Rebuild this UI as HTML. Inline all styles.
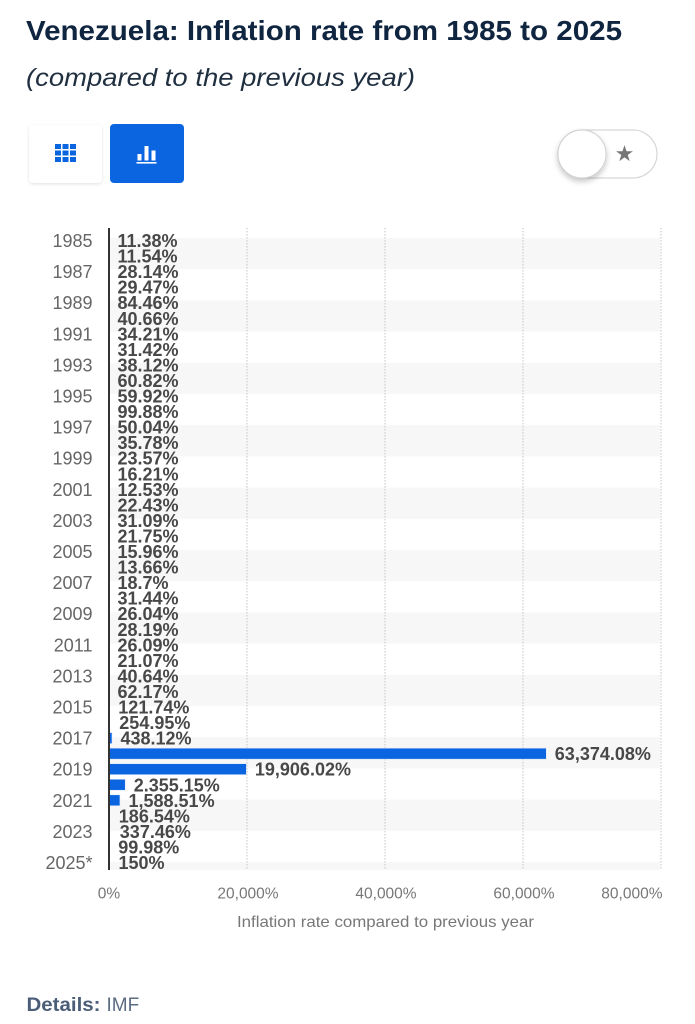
<!DOCTYPE html>
<html>
<head>
<meta charset="utf-8">
<style>
  html,body{margin:0;padding:0;background:#fff;}
  body{width:695px;height:1024px;overflow:hidden;}
  svg{display:block;}
</style>
</head>
<body>
<svg width="695" height="1024" viewBox="0 0 695 1024" xmlns="http://www.w3.org/2000/svg">
  <defs>
    <filter id="sh" x="-30%" y="-30%" width="160%" height="160%">
      <feDropShadow dx="0" dy="1" stdDeviation="1.5" flood-color="#000" flood-opacity="0.12"/>
    </filter>
    <filter id="sh2" x="-40%" y="-40%" width="180%" height="180%">
      <feDropShadow dx="0" dy="3" stdDeviation="3" flood-color="#000" flood-opacity="0.22"/>
    </filter>
  </defs>
  <rect x="0" y="0" width="695" height="1024" fill="#fff"/>

  <!-- Title -->
  <text x="26" y="40" font-family="Liberation Sans, sans-serif" font-weight="bold" font-size="27.5" fill="#0f2540" textLength="596" lengthAdjust="spacingAndGlyphs">Venezuela: Inflation rate from 1985 to 2025</text>
  <text x="26" y="86" font-family="Liberation Sans, sans-serif" font-style="italic" font-size="25" fill="#1f2f40" textLength="389" lengthAdjust="spacingAndGlyphs">(compared to the previous year)</text>

  <!-- Buttons -->
  <rect x="29" y="125" width="73" height="58" rx="4" fill="#fff" filter="url(#sh)"/>
  <g fill="#0b65e0">
    <rect x="55" y="144" width="6" height="5"/><rect x="62.5" y="144" width="6" height="5"/><rect x="70" y="144" width="6" height="5"/>
    <rect x="55" y="150.5" width="6" height="5"/><rect x="62.5" y="150.5" width="6" height="5"/><rect x="70" y="150.5" width="6" height="5"/>
    <rect x="55" y="157" width="6" height="5"/><rect x="62.5" y="157" width="6" height="5"/><rect x="70" y="157" width="6" height="5"/>
  </g>
  <rect x="110" y="124" width="74" height="59" rx="4" fill="#0b65e0"/>
  <g fill="#fff">
    <rect x="137.5" y="154" width="4" height="6.5"/>
    <rect x="144.5" y="146" width="4" height="14.5"/>
    <rect x="151.5" y="150.5" width="4" height="10"/>
    <rect x="136.5" y="162" width="20" height="1.6"/>
  </g>

  <!-- Toggle -->
  <rect x="558" y="130" width="99" height="48" rx="24" fill="#fff" stroke="#d6d6d6" stroke-width="1.2"/>
  <circle cx="582" cy="154" r="24" fill="#fff" stroke="#d0d0d0" stroke-width="1" filter="url(#sh2)"/>
  <text x="624.5" y="161" text-anchor="middle" font-family="DejaVu Sans, sans-serif" font-size="22" fill="#777">★</text>

  <!-- Stripes -->
  <g fill="#f7f7f7">
    <rect x="110" y="238" width="550" height="31.2"/>
    <rect x="110" y="300.4" width="550" height="31.2"/>
    <rect x="110" y="362.8" width="550" height="31.2"/>
    <rect x="110" y="425.2" width="550" height="31.2"/>
    <rect x="110" y="487.6" width="550" height="31.2"/>
    <rect x="110" y="550" width="550" height="31.2"/>
    <rect x="110" y="612.4" width="550" height="31.2"/>
    <rect x="110" y="674.8" width="550" height="31.2"/>
    <rect x="110" y="737.2" width="550" height="31.2"/>
    <rect x="110" y="799.6" width="550" height="31.2"/>
    <rect x="110" y="862" width="550" height="8"/>
  </g>

  <!-- Gridlines -->
  <g stroke="#c4c4c4" stroke-width="1" stroke-dasharray="1.5,1.5">
    <line x1="247" y1="228" x2="247" y2="870"/>
    <line x1="385" y1="228" x2="385" y2="870"/>
    <line x1="523" y1="228" x2="523" y2="870"/>
    <line x1="661" y1="228" x2="661" y2="870"/>
  </g>

  <!-- Bars -->
  <g fill="#0b65e0" stroke="#dbe8fb" stroke-width="0.6">
    <rect x="109" y="732.6" width="3" height="11"/>
    <rect x="109" y="748.15" width="437.3" height="11"/>
    <rect x="109" y="763.7" width="137.35" height="11"/>
    <rect x="109" y="779.25" width="16.25" height="11"/>
    <rect x="109" y="794.8" width="10.96" height="11"/>
  </g>

  <!-- Axis line -->
  <line x1="109" y1="228" x2="109" y2="870" stroke="#333" stroke-width="2"/>

  <!-- Year labels -->
  <g font-family="Liberation Sans, sans-serif" font-size="18" fill="#666" text-anchor="end">
    <text x="92.5" y="247">1985</text>
    <text x="92.5" y="278.1">1987</text>
    <text x="92.5" y="309.2">1989</text>
    <text x="92.5" y="340.3">1991</text>
    <text x="92.5" y="371.4">1993</text>
    <text x="92.5" y="402.5">1995</text>
    <text x="92.5" y="433.6">1997</text>
    <text x="92.5" y="464.7">1999</text>
    <text x="92.5" y="495.8">2001</text>
    <text x="92.5" y="526.9">2003</text>
    <text x="92.5" y="558">2005</text>
    <text x="92.5" y="589.1">2007</text>
    <text x="92.5" y="620.2">2009</text>
    <text x="92.5" y="651.3">2011</text>
    <text x="92.5" y="682.4">2013</text>
    <text x="92.5" y="713.5">2015</text>
    <text x="92.5" y="744.6">2017</text>
    <text x="92.5" y="775.7">2019</text>
    <text x="92.5" y="806.8">2021</text>
    <text x="92.5" y="837.9">2023</text>
    <text x="92.5" y="869">2025*</text>
  </g>

  <!-- Value labels -->
  <g font-family="Liberation Sans, sans-serif" font-size="18" font-weight="bold" fill="#484848">
    <text x="117.5" y="247">11.38%</text>
    <text x="117.5" y="262.55">11.54%</text>
    <text x="117.5" y="278.1">28.14%</text>
    <text x="117.5" y="293.65">29.47%</text>
    <text x="117.5" y="309.2">84.46%</text>
    <text x="117.5" y="324.75">40.66%</text>
    <text x="117.5" y="340.3">34.21%</text>
    <text x="117.5" y="355.85">31.42%</text>
    <text x="117.5" y="371.4">38.12%</text>
    <text x="117.5" y="386.95">60.82%</text>
    <text x="117.5" y="402.5">59.92%</text>
    <text x="117.5" y="418.05">99.88%</text>
    <text x="117.5" y="433.6">50.04%</text>
    <text x="117.5" y="449.15">35.78%</text>
    <text x="117.5" y="464.7">23.57%</text>
    <text x="117.5" y="480.25">16.21%</text>
    <text x="117.5" y="495.8">12.53%</text>
    <text x="117.5" y="511.35">22.43%</text>
    <text x="117.5" y="526.9">31.09%</text>
    <text x="117.5" y="542.45">21.75%</text>
    <text x="117.5" y="558">15.96%</text>
    <text x="117.5" y="573.55">13.66%</text>
    <text x="117.5" y="589.1">18.7%</text>
    <text x="117.5" y="604.65">31.44%</text>
    <text x="117.5" y="620.2">26.04%</text>
    <text x="117.5" y="635.75">28.19%</text>
    <text x="117.5" y="651.3">26.09%</text>
    <text x="117.5" y="666.85">21.07%</text>
    <text x="117.5" y="682.4">40.64%</text>
    <text x="117.5" y="697.95">62.17%</text>
    <text x="118.3" y="713.5">121.74%</text>
    <text x="119.3" y="729.05">254.95%</text>
    <text x="120.5" y="744.6">438.12%</text>
    <text x="554.8" y="760.15">63,374.08%</text>
    <text x="254.9" y="775.7">19,906.02%</text>
    <text x="133.7" y="791.25">2.355.15%</text>
    <text x="128.5" y="806.8">1,588.51%</text>
    <text x="118.8" y="822.35">186.54%</text>
    <text x="119.8" y="837.9">337.46%</text>
    <text x="118.2" y="853.45">99.98%</text>
    <text x="118.5" y="869">150%</text>
  </g>

  <!-- X axis tick labels -->
  <g font-family="Liberation Sans, sans-serif" font-size="15.5" fill="#777">
    <text x="109" y="898.5" text-anchor="middle">0%</text>
    <text x="248" y="898.5" text-anchor="middle">20,000%</text>
    <text x="386" y="898.5" text-anchor="middle">40,000%</text>
    <text x="524" y="898.5" text-anchor="middle">60,000%</text>
    <text x="662.5" y="898.5" text-anchor="end">80,000%</text>
  </g>
  <text x="237" y="927" font-family="Liberation Sans, sans-serif" font-size="16" fill="#777" textLength="297" lengthAdjust="spacingAndGlyphs">Inflation rate compared to previous year</text>

  <!-- Details -->
  <text x="26.5" y="1011" font-family="Liberation Sans, sans-serif" font-size="19" fill="#4b5e78"><tspan font-weight="bold" textLength="74" lengthAdjust="spacingAndGlyphs">Details:</tspan><tspan dx="6" fill="#5b6b82">IMF</tspan></text>
</svg>
</body>
</html>
